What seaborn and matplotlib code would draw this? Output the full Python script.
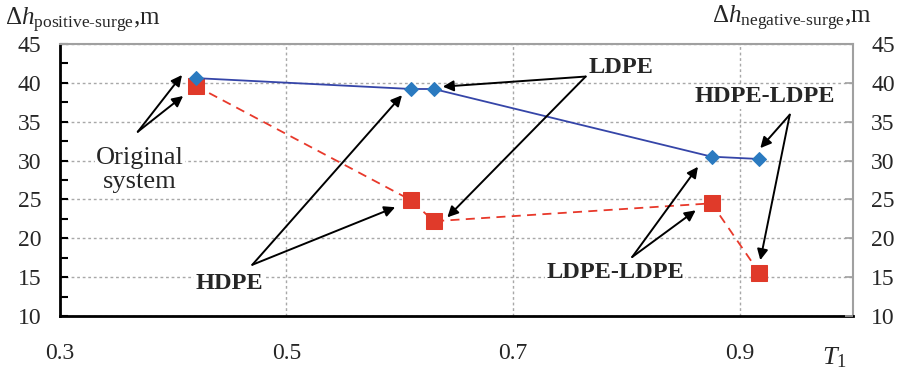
import numpy as np
import pandas as pd
import matplotlib
matplotlib.use('Agg')
import matplotlib.pyplot as plt
import seaborn as sns

# T1 values for each pipe system
t1 = [0.42, 0.61, 0.63, 0.875, 0.917]
# surge heads, m
positive_surge = [40.6, 39.2, 39.2, 30.5, 30.2]
negative_surge = [39.6, 24.9, 22.2, 24.5, 15.6]

x_ticks = [0.3, 0.5, 0.7, 0.9]
y_ticks = [10, 15, 20, 25, 30, 35, 40, 45]

sns.set_style('white')
plt.rcParams['font.family'] = ['Liberation Serif', 'DejaVu Serif']
plt.rcParams['mathtext.fontset'] = 'custom'
plt.rcParams['mathtext.rm'] = 'Liberation Serif'
plt.rcParams['mathtext.it'] = 'Liberation Serif:italic'
plt.rcParams['mathtext.bf'] = 'Liberation Serif:bold'

df = pd.DataFrame({'T1': t1, 'pos': positive_surge, 'neg': negative_surge})

fig = plt.figure(figsize=(9.02, 3.75), dpi=100)
ax = fig.add_axes([0.066, 0.157, 0.880, 0.726])

sns.lineplot(data=df, x='T1', y='pos', ax=ax, sort=False, color='#3545a8', lw=1.3,
             marker='D', markersize=7, markerfacecolor='#2a7ac0', markeredgecolor='#2a7ac0', zorder=4)
sns.lineplot(data=df, x='T1', y='neg', ax=ax, sort=False, color='#e8392b', lw=1.3,
             linestyle=(0, (5, 3.5)), marker='s', markersize=11,
             markerfacecolor='#e03a2a', markeredgecolor='#e03a2a', zorder=3)

ax.set_xlim(0.3, 1.0)
ax.set_ylim(10, 45)
ax.set_xticks(x_ticks)
ax.set_xticks(np.arange(0.4, 1.01, 0.2), minor=True)
ax.set_yticks(y_ticks)
ax.set_yticks(np.arange(12.5, 45, 5), minor=True)
ax.set_xticklabels([f'{v:.1f}' for v in x_ticks])
ax.set_yticklabels([str(v) for v in y_ticks])
ax.set_xlabel('')
ax.set_ylabel('')

ax.grid(True, which='major', color='#a8a8a8', linestyle=(0, (2, 2)), lw=1)
ax.tick_params(axis='x', which='both', direction='in', length=6, width=1.5, color='black',
               labelsize=17, pad=19)
ax.tick_params(axis='y', which='both', direction='in', length=6, width=1.5, color='black',
               labelsize=17, pad=13, right=False)

ax.spines['left'].set_color('black')
ax.spines['left'].set_linewidth(2)
ax.spines['bottom'].set_color('black')
ax.spines['bottom'].set_linewidth(2)
ax.spines['top'].set_color('#a0a0a0')
ax.spines['right'].set_color('#a0a0a0')
ax.spines['top'].set_linewidth(1.5)
ax.spines['right'].set_linewidth(1.5)

# right axis, same scale
ax2 = ax.twinx()
ax2.set_ylim(10, 45)
ax2.set_yticks(y_ticks)
ax2.set_yticklabels([str(v) for v in y_ticks])
ax2.tick_params(axis='y', direction='in', length=6, width=1.2, color='#a0a0a0',
                labelsize=17, pad=13)
for sp in ax2.spines.values():
    sp.set_visible(False)

white = dict(facecolor='white', edgecolor='none', pad=1)
arrow = dict(arrowstyle='-|>', color='black', lw=1.4, mutation_scale=16, shrinkA=0, shrinkB=0)

# labels with their arrows
ax.text(0.371, 28.8, 'Original\nsystem', ha='center', va='center', fontsize=19,
        linespacing=1.15, bbox=white, zorder=5)
for tip in [(0.408, 41.0), (0.409, 38.3)]:
    ax.annotate('', xy=tip, xytext=(0.369, 33.7), arrowprops=arrow, zorder=6)

ax.text(0.450, 14.2, 'HDPE', ha='center', va='center', fontsize=17.5, fontweight='bold',
        bbox=white, zorder=5)
for tip in [(0.602, 38.4), (0.596, 24.0)]:
    ax.annotate('', xy=tip, xytext=(0.470, 16.6), arrowprops=arrow, zorder=6)

ax.text(0.795, 41.9, 'LDPE', ha='center', va='center', fontsize=17.5, fontweight='bold',
        bbox=white, zorder=5)
for tip in [(0.638, 39.5), (0.642, 22.7)]:
    ax.annotate('', xy=tip, xytext=(0.764, 40.8), arrowprops=arrow, zorder=6)

ax.text(0.790, 15.6, 'LDPE-LDPE', ha='center', va='center', fontsize=17.5, fontweight='bold',
        bbox=white, zorder=5)
for tip in [(0.863, 29.2), (0.861, 23.6)]:
    ax.annotate('', xy=tip, xytext=(0.805, 17.6), arrowprops=arrow, zorder=6)

ax.text(0.922, 38.2, 'HDPE-LDPE', ha='center', va='center', fontsize=17.5, fontweight='bold',
        bbox=white, zorder=5)
for tip in [(0.918, 31.6), (0.918, 17.2)]:
    ax.annotate('', xy=tip, xytext=(0.944, 35.9), arrowprops=arrow, zorder=6)

fig.text(0.005, 0.945, r'$\Delta \mathit{h}_{\mathrm{positive\text{-}surge}}$,m', fontsize=18,
         ha='left', va='center')
fig.text(0.966, 0.952, r'$\Delta \mathit{h}_{\mathrm{negative\text{-}surge}}$,m', fontsize=18,
         ha='right', va='center')
fig.text(0.925, 0.045, r'$\mathit{T}_{1}$', fontsize=19, ha='center', va='center')

fig.savefig('out.png', dpi=100)
